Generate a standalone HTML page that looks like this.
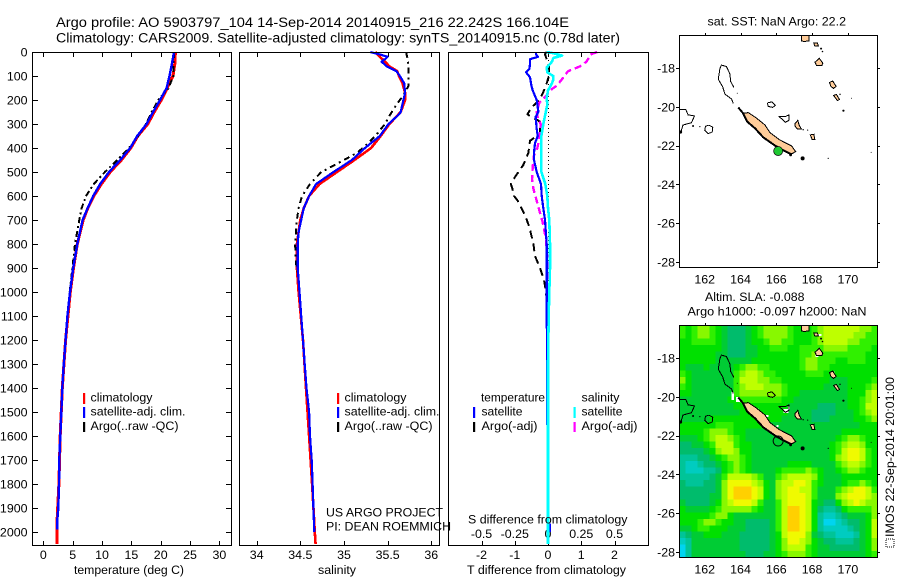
<!DOCTYPE html>
<html>
<head>
<meta charset="utf-8">
<title>Argo profile 5903797_104</title>
<style>
html,body{margin:0;padding:0;background:#fff;}
svg{display:block;}
text{font-family:"Liberation Sans",sans-serif;font-size:12.4px;fill:#000;}
.title{font-size:13.4px;}
.frame{fill:none;stroke:#000;stroke-width:1;shape-rendering:crispEdges;}
.tick{stroke:#000;stroke-width:1;shape-rendering:crispEdges;}
.curve{fill:none;shape-rendering:crispEdges;stroke-linejoin:round;}
.coast{shape-rendering:crispEdges;}
</style>
</head>
<body>
<svg id="chart" xmlns="http://www.w3.org/2000/svg" width="900" height="580" viewBox="0 0 900 580">
<defs>
<clipPath id="clip-map-sst"><rect x="680" y="36" width="197" height="231"/></clipPath>
<clipPath id="clip-map-sla"><rect x="680" y="326" width="197" height="231"/></clipPath>
</defs>

<text class="title" x="56" y="27" textLength="513" lengthAdjust="spacingAndGlyphs">Argo profile: AO 5903797_104 14-Sep-2014 20140915_216 22.242S 166.104E</text>
<text class="title" x="56" y="42.5" textLength="564" lengthAdjust="spacingAndGlyphs">Climatology: CARS2009. Satellite-adjusted climatology: synTS_20140915.nc (0.78d later)</text>

<g id="panel-temp"></g>
<g id="panel-sal"></g>
<g id="panel-diff"></g>
<g id="map-sst"></g>
<g id="map-sla"></g>

<rect class="frame" x="32.5" y="52.5" width="199" height="493"/>
<rect class="frame" x="239.5" y="52.5" width="200" height="493"/>
<rect class="frame" x="448.5" y="52.5" width="200" height="493"/>
<rect class="frame" x="679.5" y="35.5" width="198" height="232"/>
<rect class="frame" x="679.5" y="325.5" width="198" height="232"/>

<text x="74" y="574" textLength="110" lengthAdjust="spacingAndGlyphs">temperature (deg C)</text>
<text x="318" y="574" textLength="38" lengthAdjust="spacingAndGlyphs">salinity</text>
<text x="467" y="574" textLength="159" lengthAdjust="spacingAndGlyphs">T difference from climatology</text>
<text x="468" y="523.5" textLength="159.5" lengthAdjust="spacingAndGlyphs">S difference from climatology</text>

<g>
<rect x="83" y="393" width="2.2" height="11" fill="#ff0000"/>
<rect x="83" y="407" width="2.2" height="11" fill="#0000ff"/>
<rect x="83" y="422" width="2.2" height="10" fill="#000"/>
<text x="90.5" y="401.7" textLength="62" lengthAdjust="spacingAndGlyphs">climatology</text>
<text x="90.5" y="415.7" textLength="95" lengthAdjust="spacingAndGlyphs">satellite-adj. clim.</text>
<text x="90.5" y="430" textLength="88" lengthAdjust="spacingAndGlyphs">Argo(..raw -QC)</text>
</g>
<g>
<rect x="337" y="393" width="2.2" height="11" fill="#ff0000"/>
<rect x="337" y="407" width="2.2" height="11" fill="#0000ff"/>
<rect x="337" y="422" width="2.2" height="10" fill="#000"/>
<text x="344.5" y="401.7" textLength="62" lengthAdjust="spacingAndGlyphs">climatology</text>
<text x="344.5" y="415.7" textLength="95" lengthAdjust="spacingAndGlyphs">satellite-adj. clim.</text>
<text x="344.5" y="430" textLength="88" lengthAdjust="spacingAndGlyphs">Argo(..raw -QC)</text>
</g>
<text x="326" y="516.7" textLength="117" lengthAdjust="spacingAndGlyphs">US ARGO PROJECT</text>
<text x="326" y="530.7" textLength="125" lengthAdjust="spacingAndGlyphs">PI: DEAN ROEMMICH</text>

<g>
<text x="481" y="401.7" textLength="64" lengthAdjust="spacingAndGlyphs">temperature</text>
<text x="581.5" y="401.7" textLength="38" lengthAdjust="spacingAndGlyphs">salinity</text>
<rect x="473" y="407" width="2.2" height="11" fill="#0000ff"/>
<rect x="473" y="422" width="2.2" height="10" fill="#000"/>
<rect x="573.5" y="407" width="2.2" height="11" fill="#00ffff"/>
<rect x="573.5" y="422" width="2.2" height="10" fill="#ff00ff"/>
<text x="481.5" y="415.7" textLength="41" lengthAdjust="spacingAndGlyphs">satellite</text>
<text x="481.5" y="430" textLength="56" lengthAdjust="spacingAndGlyphs">Argo(-adj)</text>
<text x="581.5" y="415.7" textLength="41" lengthAdjust="spacingAndGlyphs">satellite</text>
<text x="581.5" y="430" textLength="56" lengthAdjust="spacingAndGlyphs">Argo(-adj)</text>
</g>

<text x="707.5" y="25.5" textLength="138.5" lengthAdjust="spacingAndGlyphs">sat. SST: NaN  Argo: 22.2</text>
<text x="705" y="301" textLength="99.5" lengthAdjust="spacingAndGlyphs">Altim. SLA: -0.088</text>
<text x="687.5" y="315.7" textLength="179" lengthAdjust="spacingAndGlyphs">Argo h1000: -0.097  h2000: NaN</text>

<rect x="886" y="539" width="8" height="8" fill="none" stroke="#000" stroke-width="1" stroke-dasharray="1 1"/>
<text transform="translate(894 537) rotate(-90)" textLength="160" lengthAdjust="spacingAndGlyphs">IMOS 22-Sep-2014 20:01:00</text>
</svg>

<script>
// ---- profile tick labels
const depthTicks = [0,100,200,300,400,500,600,700,800,900,1000,1100,1200,1300,1400,1500,1600,1700,1800,1900,2000];
const tempTicks = [0,5,10,15,20,25,30];
const salTicks = [34,34.5,35,35.5,36];
const tDiffTicks = [-2,-1,0,1,2];
const sDiffTicks = [-0.5,-0.25,0,0.25,0.5];
const lonTicks = [162,164,166,168,170];
const latTicks = [-18,-20,-22,-24,-26,-28];

// ---- temperature profiles
const tempClimDepth = [0,50,100,150,200,250,300,350,400,450,500,550,600,650,700,800,900,1000,1200,1400,1600,1800,1950,2000,2050];
const tempClimValues = [22.5,22.4,22.1,21.1,20.1,18.9,17.8,16.1,14.9,13.3,11.4,9.9,8.6,7.6,6.8,5.8,5.15,4.6,3.8,3.24,2.88,2.65,2.35,2.3,2.3];
const tempSatDepth = [0,50,100,150,200,250,300,350,400,450,500,550,600,650,700,800,900,1000,1100,1200,1300,1400,1500,1600,1700,1800,1900,1950,1990];
const tempSatValues = [22.27,21.9,21.5,21.0,19.9,18.7,17.6,16.0,14.8,13.1,11.2,9.7,8.5,7.56,6.7,5.8,5.1,4.55,4.1,3.8,3.5,3.24,3.07,2.9,2.73,2.67,2.56,2.39,2.35];
const tempArgoDepth = [0,100,150,200,250,300,350,400,450,500,550,600,650,700,800,900,1000];
const tempArgoValues = [22.27,22.15,21.35,19.6,18.47,17.5,16.2,14.6,12.6,10.5,8.6,7.27,6.54,6.14,5.4,4.95,4.5];

// ---- salinity profiles
const salClimDepth = [0,20,40,60,80,100,130,170,200,250,300,350,400,450,500,550,600,650,700,800,900,1000,1200,1400,1600,1800,2000,2050];
const salClimValues = [35.36,35.41,35.47,35.52,35.61,35.63,35.67,35.70,35.70,35.65,35.52,35.42,35.31,35.12,34.92,34.72,34.60,34.54,34.50,34.46,34.46,34.48,34.53,34.565,34.6,34.635,34.665,34.675];
const salSatDepth = [0,10,20,30,40,60,80,100,130,170,200,250,260,300,350,400,450,500,550,600,650,700,750,800,900,1000,1100,1200,1300,1400,1500,1600,1700,1800,1900,2000];
const salSatValues = [35.30,35.41,35.50,35.47,35.43,35.49,35.60,35.64,35.69,35.70,35.68,35.65,35.63,35.51,35.41,35.24,35.09,34.88,34.68,34.60,34.54,34.51,34.48,34.47,34.47,34.49,34.51,34.53,34.55,34.57,34.60,34.61,34.63,34.64,34.65,34.66];
const salArgoDepth = [0,30,60,100,140,180,220,260,300,340,380,420,460,500,550,600,650,700,800,880,920];
const salArgoValues = [35.71,35.73,35.74,35.74,35.74,35.68,35.60,35.53,35.47,35.38,35.28,35.15,34.95,34.74,34.61,34.52,34.48,34.46,34.44,34.45,34.47];

// ---- difference profiles
const diffTSatDepth = [0,10,20,30,50,70,85,105,140,160,200,250,270,320,350,380,420,450,500,550,600,650,700,800,900,1000,1100,1300,1555];
const diffTSatValues = [-0.36,-0.36,-0.30,-0.54,-0.54,-0.56,-0.66,-0.54,-0.50,-0.46,-0.34,-0.29,-0.37,-0.34,-0.31,-0.39,-0.42,-0.42,-0.34,-0.21,-0.19,-0.14,-0.09,-0.04,-0.04,-0.04,-0.04,-0.02,-0.02];
const diffTSatBottomDepth = [1965,2000];
const diffTSatBottomValues = [0.06,0.06];
const diffTArgoDepth = [0,10,30,60,100,130,160,200,230,260,290,340,370,420,470,520,550,570,600,620,680,730,800,850,900,950,1000,1040,1100];
const diffTArgoValues = [-0.04,-0.09,-0.04,0.03,0.03,-0.04,-0.12,-0.25,-0.49,-0.62,-0.24,-0.24,-0.54,-0.59,-0.74,-0.99,-1.12,-1.07,-1.02,-0.91,-0.69,-0.56,-0.44,-0.39,-0.24,-0.12,-0.06,-0.04,0];
const diffSSatDepth = [0,5,15,25,40,50,65,85,100,115,130,160,190,220,300,350,400,450,500,550,600,650,700,800,900,1000,1100,1300,2050];
const diffSSatValues = [-0.01,0.04,0.105,0.04,0.03,0.015,-0.01,-0.005,0.04,0.04,0.03,0,-0.01,-0.005,-0.035,-0.05,-0.05,-0.05,-0.05,-0.02,-0.005,0,0.01,0.015,0.015,0.01,0.005,0,0];
const diffSArgoDepth = [0,10,40,60,80,110,140,160,180,210,250,280,300,340,400,430,480,530,570,620,670,710,780,860,1000,1100];
const diffSArgoValues = [0.37,0.32,0.29,0.24,0.15,0.11,0.067,0.015,-0.01,-0.065,-0.085,-0.075,-0.055,-0.06,-0.08,-0.105,-0.115,-0.12,-0.11,-0.085,-0.06,-0.04,-0.015,-0.005,0,0];

// ---- SLA field, 33 columns by 36 rows (colour level 0 = lowest, 10 = highest)
const slaLevels = [
[6,5,6,7,7,6,5,4,3,3,3,4,5,6,7,7,7,7,6,5,5,5,6,7,8,8,8,8,8,8,7,7,6],
[6,5,6,7,7,6,5,4,3,3,3,4,5,6,7,7,7,7,6,5,5,5,6,7,8,8,8,8,8,7,7,6,6],
[5,5,6,6,6,6,5,4,3,3,3,4,5,5,6,7,7,6,6,5,5,5,6,7,8,8,8,8,7,7,6,6,6],
[5,5,5,5,5,5,5,4,3,3,3,4,4,5,5,6,6,6,5,5,6,6,6,6,7,7,7,7,6,6,6,6,5],
[5,5,5,5,5,5,4,4,3,3,3,4,4,5,5,5,5,5,5,5,6,6,7,6,6,6,6,6,6,6,6,5,5],
[5,5,5,5,5,5,4,4,4,4,4,4,5,5,5,5,5,5,5,5,6,7,7,6,6,6,5,5,6,6,6,5,5],
[5,4,4,4,5,4,4,4,4,5,6,7,7,6,6,5,5,5,5,5,6,7,7,6,6,5,5,5,5,5,5,5,5],
[6,5,4,4,4,4,4,4,4,6,7,8,8,7,6,6,5,5,5,5,5,6,6,6,5,5,5,5,5,5,5,5,5],
[7,5,4,4,4,4,4,4,4,6,8,8,8,7,7,6,6,5,5,5,5,5,5,5,5,4,4,4,5,5,5,5,6],
[6,5,4,4,4,4,4,4,4,6,7,8,8,8,7,7,7,6,5,5,5,5,5,5,4,4,4,4,5,5,5,6,7],
[5,5,4,4,4,4,4,4,4,6,7,7,7,7,7,7,7,6,5,5,4,4,4,4,4,4,4,4,5,5,5,7,8],
[4,4,4,4,4,4,4,4,5,5,6,6,6,6,6,6,6,5,5,4,4,4,4,4,4,4,4,4,5,5,6,7,8],
[4,4,4,4,4,4,4,4,4,5,5,5,5,5,5,5,5,5,4,4,4,4,4,3,3,3,4,4,5,5,6,8,8],
[4,4,4,4,4,4,4,4,4,4,5,5,5,5,5,5,5,5,4,4,4,4,3,3,3,3,4,4,4,5,6,7,8],
[4,4,4,4,4,5,5,5,5,5,5,5,5,5,5,5,5,4,4,4,4,4,3,3,3,4,4,4,4,5,5,6,7],
[5,5,5,5,5,5,6,6,6,5,5,5,5,5,5,4,4,4,4,4,4,4,4,4,4,4,4,4,4,4,5,5,5],
[5,5,5,5,6,7,7,7,6,5,5,4,4,4,4,4,4,4,4,4,4,4,4,4,4,4,4,5,5,5,5,5,5],
[4,4,4,5,6,7,8,8,7,6,5,4,4,4,4,4,4,4,4,4,4,4,4,4,4,4,5,6,7,7,6,5,5],
[3,3,4,4,5,6,8,8,8,6,5,5,4,4,4,4,4,4,4,4,4,4,4,4,4,5,6,7,8,8,7,5,5],
[3,3,3,3,4,5,7,8,8,7,5,5,4,4,4,4,4,4,4,4,4,4,4,4,4,5,6,8,9,9,8,6,5],
[2,2,2,3,3,4,5,6,7,7,6,5,4,4,4,4,4,4,4,4,4,4,4,4,4,5,7,8,9,9,8,6,5],
[2,1,1,2,3,3,4,5,6,7,6,5,4,4,4,4,4,4,5,5,5,5,4,4,4,4,6,7,8,8,7,6,5],
[2,1,1,1,2,2,3,5,6,7,6,5,4,4,4,4,5,6,6,6,6,7,6,5,4,4,5,6,7,7,6,5,5],
[2,2,2,2,2,3,4,6,8,8,8,8,7,6,4,4,6,7,8,8,8,8,7,5,4,4,4,5,5,5,5,5,5],
[3,2,2,2,3,3,4,7,9,9,9,9,8,7,5,4,7,8,8,9,9,8,6,5,4,4,4,5,6,6,7,6,5],
[3,3,3,3,3,3,4,7,9,10,10,10,9,8,5,4,7,8,9,9,8,8,6,4,4,4,6,7,8,9,9,8,6],
[3,3,3,3,3,4,4,7,9,10,10,10,9,8,5,4,7,8,9,9,9,8,6,4,4,4,7,8,9,9,9,8,7],
[4,3,3,3,3,4,5,7,8,9,9,9,8,6,4,4,6,8,9,9,9,8,5,4,3,3,5,7,8,9,8,7,7],
[5,4,4,4,4,5,6,7,7,7,7,7,6,5,4,4,6,8,10,10,9,8,5,3,2,2,3,5,6,6,6,6,7],
[5,5,5,5,5,6,7,7,5,4,4,4,4,4,4,4,6,8,10,10,9,8,5,2,1,1,2,3,4,4,4,5,7],
[5,5,5,6,7,7,6,5,5,4,4,3,3,3,3,4,6,8,10,10,9,8,5,2,0,0,1,2,3,3,4,5,8],
[4,4,5,6,6,5,5,5,4,4,4,3,3,3,3,4,6,8,10,10,9,8,5,2,1,1,1,1,2,3,4,5,8],
[2,3,4,4,5,5,5,4,4,4,3,3,3,3,3,4,5,8,9,9,9,7,4,3,2,2,1,1,1,2,4,5,8],
[1,2,4,4,4,4,4,4,4,4,3,3,3,3,3,4,5,7,9,9,8,7,5,4,3,3,2,2,2,3,4,5,7],
[0,2,4,4,4,4,4,4,4,4,3,3,3,3,3,4,5,7,8,8,8,6,5,4,4,3,3,3,3,3,4,5,7],
[0,2,4,4,4,4,4,4,4,4,4,3,3,3,4,4,5,6,7,7,7,6,5,4,4,4,4,4,4,4,4,5,6]
];
const slaColors = ['#00d4f0','#00ccc0','#00c498','#00bc6c','#00cc34','#00e000','#30f000','#88f800','#beff00','#f0fa00','#ffd000'];

// ---- coastline, [lon, lat]
const landNewCaledonia = [[164.15,-20.34],[164.43,-20.30],[164.9,-20.59],[165.37,-20.94],[165.65,-21.33],[166.2,-21.71],[166.86,-22.02],[167.08,-22.31],[166.86,-22.43],[166.39,-22.23],[165.93,-21.97],[165.27,-21.57],[164.81,-21.11],[164.38,-20.77]];
const coastNewCaledoniaSouth = [[163.87,-20.03],[164.15,-20.34],[164.38,-20.77],[164.81,-21.11],[165.27,-21.57],[165.93,-22.0],[166.39,-22.25],[166.86,-22.45]];
const reefChesterfield = [[163.63,-19.0],[163.45,-18.7],[163.41,-18.31],[163.22,-17.93],[162.94,-17.85],[162.85,-18.02],[162.81,-18.27],[162.76,-18.58],[163.0,-18.96],[163.13,-19.34],[163.5,-19.6],[163.6,-19.82]];
const reefLeft = [[160.57,-20.13],[160.94,-20.13],[161.07,-20.42],[161.43,-20.47],[161.26,-20.82],[160.79,-20.94],[160.65,-21.37]];
const reefCircleLeft = [[162.23,-20.95],[162.45,-21.05],[162.42,-21.3],[162.2,-21.38],[162.0,-21.2],[162.05,-21.0],[162.23,-20.95]];
const reefOuvea = [[165.5,-19.8],[165.75,-19.75],[165.95,-19.92],[165.8,-20.03],[165.55,-19.98],[165.5,-19.8]];
const reefMiddle = [[166.13,-20.5],[166.5,-20.5],[166.72,-20.42],[166.7,-20.7],[166.5,-20.8],[166.35,-20.65],[166.13,-20.5]];
const landLifou = [[167.05,-20.85],[167.2,-20.7],[167.28,-20.95],[167.4,-21.15],[167.18,-21.15],[167.05,-21.0]];
const landMare = [[167.9,-21.45],[168.1,-21.42],[168.15,-21.68],[168.0,-21.68]];
const landVanuatuA = [[167.4,-16.33],[167.83,-16.33],[167.83,-16.6],[167.55,-16.64],[167.4,-16.6]];
const landVanuatuB = [[168.1,-16.72],[168.3,-16.72],[168.35,-16.87],[168.15,-16.87]];
const landVanuatuC = [[168.16,-17.7],[168.4,-17.5],[168.6,-17.75],[168.55,-17.88],[168.25,-17.88]];
const landVanuatuD = [[168.97,-18.75],[169.15,-18.67],[169.34,-18.95],[169.2,-19.05],[169.05,-18.95]];
const landVanuatuE = [[169.2,-19.42],[169.35,-19.36],[169.53,-19.62],[169.42,-19.68]];
const blackSpots = [[167.47,-22.66,2],[166.8,-22.48,1.4],[168.9,-22.66,0.6],[171.3,-22.35,0.5],[170.2,-19.56,0.5],[169.75,-20.2,1.1],[169.56,-19.36,0.7],[168.5,-17.0,1],[168.58,-17.15,0.8],[161.35,-20.99,1],[161.73,-21.02,0.6],[160.65,-21.3,1.6],[163.82,-19.3,0.5],[167.5,-21.18,0.7],[167.75,-21.2,0.6]];
const noDataPatches = [[163.5,-19.75,2.5,8],[163.75,-20.02,4,5],[166.4,-20.62,5,4],[164.9,-20.6,2,2],[165.4,-20.95,3,2],[166.0,-21.45,2,2],[168.35,-16.75,3,2],[168.2,-17.85,3,2],[169.15,-18.7,2,3],[166.65,-20.5,2,3]];
const argoLon = 166.104;
const argoLat = -22.28;

// ---- scales
const SVGNS = 'http://www.w3.org/2000/svg';
function depthY(d){ return 52 + 0.24 * d; }
function tempX(t){ return 43.3 + 5.87 * t; }
function salX(s){ return 256.7 + 87.3 * (s - 34); }
function tDiffX(v){ return 548 + 33.25 * v; }
function sDiffX(v){ return 548 + 133 * v; }
function lonX(l){ return 776.3 + (l - 166) * 17.9; }
function latY(l, off){ return off + 68 + (-18 - l) * 19.4; }
function make(tag, parent, attrs){
  const el = document.createElementNS(SVGNS, tag);
  for (const k in attrs) el.setAttribute(k, attrs[k]);
  parent.appendChild(el);
  return el;
}
function fmt(v){ return String(v); }
function pts(xs, ys, fx, fy){
  return xs.map((x, i) => fx(x).toFixed(1) + ',' + fy(ys[i]).toFixed(1)).join(' ');
}
function tickLine(parent, x1, y1, x2, y2){
  const el = make('line', parent, {x1:x1, y1:y1, x2:x2, y2:y2, class:'tick'});
  
  
}
function label(parent, x, y, str, anchor){
  const el = make('text', parent, {x:x, y:y, 'text-anchor':anchor});
  el.textContent = str;
  
  
}
function curve(parent, depth, values, fx, color, width, dash, name){
  const attrs = {points: pts(values, depth, fx, depthY), class:'curve', stroke:color, 'stroke-width':width};
  if (dash) attrs['stroke-dasharray'] = dash;
  const el = make('polyline', parent, attrs);
  
  
}

// ---- temperature panel
const pT = document.getElementById('panel-temp');
depthTicks.forEach(d => {
  const y = Math.round(depthY(d)) + 0.5;
  tickLine(pT, 32, y, 38, y);
  tickLine(pT, 226, y, 231, y);
  label(pT, 27.5, depthY(d) + 4.5, fmt(d), 'end');
});
tempTicks.forEach(t => {
  const x = Math.round(tempX(t)) + 0.5;
  tickLine(pT, x, 52, x, 57);
  tickLine(pT, x, 541, x, 545);
  label(pT, tempX(t), 559, fmt(t), 'middle');
});
curve(pT, tempClimDepth, tempClimValues, tempX, '#ff0000', 3, null, 'temperature-climatology-line');
curve(pT, tempArgoDepth, tempArgoValues, tempX, '#000', 2, '6 3 2 3', 'temperature-argo-line');
curve(pT, tempSatDepth, tempSatValues, tempX, '#0000ff', 2.4, null, 'temperature-satellite-line');

// ---- salinity panel
const pS = document.getElementById('panel-sal');
salTicks.forEach(s => {
  const x = Math.round(salX(s)) + 0.5;
  tickLine(pS, x, 52, x, 57);
  tickLine(pS, x, 541, x, 545);
  label(pS, salX(s), 559, fmt(s), 'middle');
});
curve(pS, salClimDepth, salClimValues, salX, '#ff0000', 2.6, null, 'salinity-climatology-line');
curve(pS, salArgoDepth, salArgoValues, salX, '#000', 2, '6 4 2 4', 'salinity-argo-line');
curve(pS, salSatDepth, salSatValues, salX, '#0000ff', 2.2, null, 'salinity-satellite-line');

// ---- difference panel
const pD = document.getElementById('panel-diff');
tDiffTicks.forEach(t => {
  const x = Math.round(tDiffX(t)) + 0.5;
  tickLine(pD, x, 52, x, 57);
  tickLine(pD, x, 541, x, 545);
  label(pD, tDiffX(t), 559, fmt(t), 'middle');
});
sDiffTicks.forEach(s => {
  label(pD, sDiffX(s), 538, fmt(s), 'middle');
});
const zeroLine = make('line', pD, {x1:548.5, y1:52, x2:548.5, y2:545, stroke:'#000', 'stroke-width':1, 'stroke-dasharray':'1 3', 'shape-rendering':'crispEdges'});


curve(pD, diffTArgoDepth, diffTArgoValues, tDiffX, '#000', 2, '8 5', 't-diff-argo-line');
curve(pD, diffSArgoDepth, diffSArgoValues, sDiffX, '#ff00ff', 2.4, '7 4', 's-diff-argo-line');
curve(pD, diffTSatDepth, diffTSatValues, tDiffX, '#0000ff', 2.2, null, 't-diff-satellite-line');
curve(pD, diffTSatBottomDepth, diffTSatBottomValues, tDiffX, '#0000ff', 2, null, 't-diff-satellite-bottom-line');
curve(pD, diffSSatDepth, diffSSatValues, sDiffX, '#00ffff', 2.6, null, 's-diff-satellite-line');

// ---- maps
function lonlat(arr, off){
  return arr.map(p => lonX(p[0]).toFixed(1) + ',' + latY(p[1], off).toFixed(1)).join(' ');
}
function land(g, arr, off, name){
  const el = make('polygon', g, {points: lonlat(arr, off), fill:'#ffcc99', stroke:'#000', 'stroke-width':1, class:'coast'});
  
  
}
function reef(g, arr, off, name){
  const el = make('polyline', g, {points: lonlat(arr, off), fill:'none', stroke:'#000', 'stroke-width':1, class:'coast'});
  
  
}
function coastline(g, off){
  land(g, landNewCaledonia, off, 'new-caledonia-land');
  const sc = make('polyline', g, {points: lonlat(coastNewCaledoniaSouth, off), fill:'none', stroke:'#000', 'stroke-width':2, class:'coast'});
  
  
  reef(g, reefChesterfield, off, 'chesterfield-reef');
  reef(g, reefLeft, off, 'western-reef');
  reef(g, reefCircleLeft, off, 'western-atoll');
  reef(g, reefOuvea, off, 'northern-atoll');
  reef(g, reefMiddle, off, 'central-reef');
  land(g, landLifou, off, 'lifou-island');
  land(g, landMare, off, 'mare-island');
  land(g, landVanuatuA, off, 'vanuatu-island-a');
  land(g, landVanuatuB, off, 'vanuatu-island-b');
  land(g, landVanuatuC, off, 'vanuatu-island-c');
  land(g, landVanuatuD, off, 'vanuatu-island-d');
  land(g, landVanuatuE, off, 'vanuatu-island-e');
  blackSpots.forEach(s => {
    const el = make('circle', g, {cx:lonX(s[0]), cy:latY(s[1], off), r:s[2], fill:'#000'});
    
    
  });
}
function mapAxes(g, off){
  lonTicks.forEach(l => {
    const x = Math.round(lonX(l)) + 0.5;
    tickLine(g, x, off + 33, x, off + 35);
    label(g, lonX(l), off + 283.5, fmt(l), 'middle');
  });
  latTicks.forEach(l => {
    const y = Math.round(latY(l, off)) + 0.5;
    tickLine(g, 676, y, 679, y);
    tickLine(g, 878, y, 880, y);
    label(g, 675, latY(l, off) + 4.5, fmt(l), 'end');
  });
}

// SST map
const mSST = document.getElementById('map-sst');
const gSST = make('g', mSST, {'clip-path':'url(#clip-map-sst)'});


coastline(gSST, 0);
const argoDot = make('circle', gSST, {cx:lonX(argoLon), cy:latY(argoLat, 0), r:4.5, fill:'#1fc832', stroke:'#000', 'stroke-width':0.7});


mapAxes(mSST, 0);

// SLA map
const mSLA = document.getElementById('map-sla');
const gSLA = make('g', mSLA, {'clip-path':'url(#clip-map-sla)'});


const nRows = slaLevels.length;
slaLevels.forEach((row, j) => {
  const y0 = 325.5 + j * 232 / nRows;
  const y1 = 325.5 + (j + 1) * 232 / nRows;
  row.forEach((v, i) => {
    const cell = make('rect', gSLA, {x:679.5 + i * 198 / row.length, y:y0, width:198 / row.length + 0.4, height:y1 - y0 + 0.4, fill:slaColors[v], 'shape-rendering':'crispEdges'});
    
    
  });
});
noDataPatches.forEach(p => {
  const el = make('rect', gSLA, {x:lonX(p[0]), y:latY(p[1], 290), width:p[2], height:p[3], fill:'#fff', 'shape-rendering':'crispEdges'});
  
  
});
coastline(gSLA, 290);
const argoRing = make('circle', gSLA, {cx:lonX(argoLon), cy:latY(argoLat, 290), r:5, fill:'none', stroke:'#000', 'stroke-width':1});


mapAxes(mSLA, 290);
</script>
</body>
</html>
